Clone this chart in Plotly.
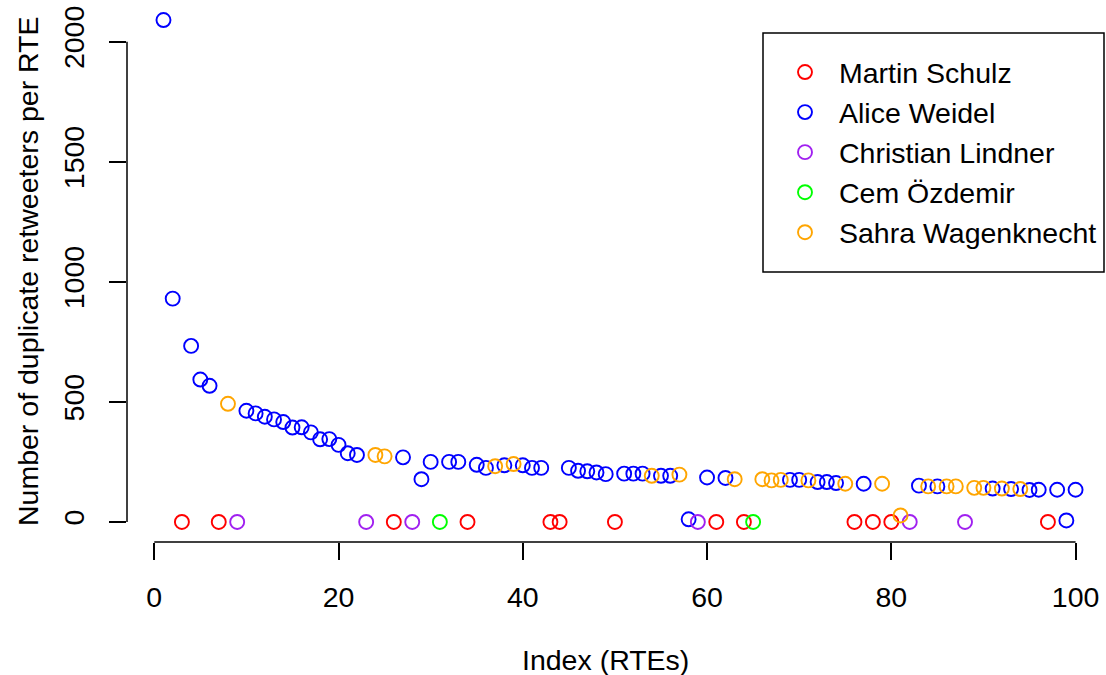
import plotly.graph_objects as go

# ---- data ----
index = list(range(1, 101))
values = [
    2090, 930, 0, 733, 593, 567, 0, 492, 0, 463,
    452, 438, 427, 416, 393, 394, 373, 344, 345, 321,
    286, 279, 0, 279, 273, 0, 269, 0, 178, 250,
    0, 250, 250, 0, 238, 225, 232, 236, 241, 236,
    225, 225, 0, 0, 225, 213, 211, 206, 199, 0,
    201, 201, 201, 192, 192, 192, 197, 11, 0, 185,
    0, 183, 178, 0, 0, 178, 173, 175, 175, 175,
    173, 166, 166, 162, 159, 0, 159, 0, 159, 0,
    27, 0, 151, 148, 148, 148, 148, 0, 142, 142,
    139, 139, 137, 137, 133, 134, 0, 134, 6, 134,
]
# politician code for each point: S=Schulz, W=Weidel, L=Lindner, O=Özdemir, K=Wagenknecht
who = (
    "WWSWWWSKLW"
    "WWWWWWWWWW"
    "WWLKKSWLWW"
    "OWWSWWKWKW"
    "WWSSWWWWWS"
    "WWWKWWKWLW"
    "SWKSOKKKWW"
    "KWWWKSWSKS"
    "KLWKWKKLKK"
    "WKWKWWSWWW"
)
names = ["Martin Schulz", "Alice Weidel", "Christian Lindner", "Cem Özdemir", "Sahra Wagenknecht"]
codes = ["S", "W", "L", "O", "K"]
colors = ["#FF0000", "#0000FF", "#A020F0", "#00FF00", "#FFA500"]
x_ticks = [0, 20, 40, 60, 80, 100]
y_ticks = [0, 500, 1000, 1500, 2000]
x_title = "Index (RTEs)"
y_title = "Number of duplicate retweeters per RTE"

FONT = "Liberation Sans, Arial, Helvetica, sans-serif"
FS = 28.5

W, H = 1106, 675
ML, MR, MT, MB = 127, 12, 0, 133
PW, PH = W - ML - MR, H - MT - MB

fig = go.Figure()
for name, code, col in zip(names, codes, colors):
    xs = [i for i, c in zip(index, who) if c == code]
    ys = [v for v, c in zip(values, who) if c == code]
    fig.add_trace(go.Scatter(
        x=xs, y=ys, mode="markers", name=name, legendgroup=name,
        marker=dict(symbol="circle-open", size=14, color=col, line=dict(width=1.9, color=col)),
    ))

# R-style axis lines spanning only the tick range
fig.add_shape(type="line", xref="x", yref="paper", x0=x_ticks[0], x1=x_ticks[-1], y0=0, y1=0,
              line=dict(color="black", width=1.5))
fig.add_shape(type="line", xref="paper", yref="y", x0=0, x1=0, y0=y_ticks[0], y1=y_ticks[-1],
              line=dict(color="black", width=1.5))
# legend frame
fig.add_shape(type="rect", xref="paper", yref="paper",
              x0=(763 - ML) / PW, x1=(1104 - ML) / PW, y0=(H - MB - 272) / PH, y1=(H - MB - 33) / PH,
              line=dict(color="black", width=1.5), fillcolor="rgba(0,0,0,0)", layer="below")

# axis titles
fig.add_annotation(text=x_title, xref="paper", yref="paper", x=(605.5 - ML) / PW, y=(H - MB - 660) / PH,
                   xanchor="center", yanchor="middle", showarrow=False, font=dict(size=FS))
fig.add_annotation(text=y_title, xref="paper", yref="paper", x=(28 - ML) / PW, y=0.5,
                   xanchor="center", yanchor="middle", textangle=-90, showarrow=False, font=dict(size=FS))

fig.update_layout(
    width=W, height=H,
    margin=dict(l=ML, r=MR, t=MT, b=MB, autoexpand=False),
    paper_bgcolor="white", plot_bgcolor="white",
    font=dict(family=FONT, size=FS, color="black"),
    showlegend=True,
    legend=dict(
        x=(771 - ML) / PW, y=(H - MB - 47) / PH, xanchor="left", yanchor="top",
        borderwidth=0, bgcolor="rgba(0,0,0,0)",
        font=dict(family=FONT, size=FS, color="black"),
        tracegroupgap=0, itemwidth=58,
    ),
    xaxis=dict(
        range=[-2.96, 102.0], tickvals=x_ticks, ticks="outside", ticklen=17, tickwidth=1.5,
        tickcolor="black", showline=False, showgrid=False, zeroline=False, automargin=False,
        ticklabelstandoff=13, tickfont=dict(size=FS),
    ),
    yaxis=dict(
        range=[-83.6, 2173.6], tickvals=y_ticks, ticks="outside", ticklen=17, tickwidth=1.5,
        tickcolor="black", showline=False, showgrid=False, zeroline=False, tickangle=-90,
        automargin=False, ticklabelstandoff=14, tickfont=dict(size=FS),
    ),
)

fig.write_html("out.html", config={"displayModeBar": False},
               post_script="document.body.style.margin='0';")
